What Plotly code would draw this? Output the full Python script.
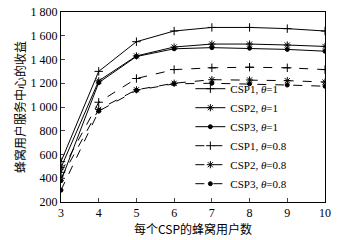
import plotly.graph_objects as go

x_users = [3, 4, 5, 6, 7, 8, 9, 10]
csp1_t1 = [540, 1300, 1550, 1640, 1670, 1670, 1660, 1640]
csp2_t1 = [490, 1220, 1430, 1505, 1530, 1530, 1522, 1510]
csp3_t1 = [380, 1205, 1425, 1490, 1500, 1495, 1485, 1470]
csp1_t08 = [450, 1040, 1240, 1315, 1330, 1335, 1330, 1315]
csp2_t08 = [400, 980, 1145, 1200, 1230, 1228, 1222, 1210]
csp3_t08 = [300, 965, 1140, 1195, 1200, 1195, 1185, 1175]

names = ["CSP1, <i>θ</i>=1", "CSP2, <i>θ</i>=1", "CSP3, <i>θ</i>=1",
         "CSP1, <i>θ</i>=0.8", "CSP2, <i>θ</i>=0.8", "CSP3, <i>θ</i>=0.8"]
series = [csp1_t1, csp2_t1, csp3_t1, csp1_t08, csp2_t08, csp3_t08]
y_ticks = [200, 400, 600, 800, 1000, 1200, 1400, 1600, 1800]
y_ticktext = ["200", "400", "600", "800", "1 000", "1 200", "1 400", "1 600", "1 800"]

symbols = ["cross-thin-open", "asterisk-open", "circle"] * 2
sizes = [6, 6, 4] * 2
dashes = ["solid"] * 3 + ["dash"] * 3

fig = go.Figure()
for name, ys, sym, sz, d in zip(names, series, symbols, sizes, dashes):
    fig.add_trace(go.Scatter(
        x=x_users, y=ys, name=name, mode="lines+markers",
        line=dict(color="black", width=1, dash=d),
        marker=dict(symbol=sym, size=sz, color="black",
                    line=dict(color="black", width=1)),
    ))

serif = "Liberation Serif, Times New Roman, serif"
cjk = "Noto Sans CJK SC, " + serif
fig.update_layout(
    width=338, height=240,
    margin=dict(l=61, r=13, t=12, b=38),
    paper_bgcolor="white", plot_bgcolor="white",
    font=dict(family=serif, size=12, color="black"),
    showlegend=True,
    legend=dict(x=0.49, y=0.02, xanchor="left", yanchor="bottom",
                bgcolor="rgba(0,0,0,0)", borderwidth=0,
                font=dict(size=11), tracegroupgap=0, itemwidth=30),
    xaxis=dict(range=[3, 10], tickvals=x_users, ticks="inside", ticklen=4,
               showgrid=False, zeroline=False, showline=True, linecolor="black",
               linewidth=1, mirror=True, automargin=False,
               title=dict(text="每个CSP的蜂窝用户数", standoff=2,
                          font=dict(family=cjk, size=12))),
    yaxis=dict(range=[200, 1800], tickvals=y_ticks, ticktext=y_ticktext,
               ticks="inside", ticklen=4,
               showgrid=False, zeroline=False, showline=True, linecolor="black",
               linewidth=1, mirror=True, automargin=False,
               title=dict(text="蜂窝用户服务中心的收益", standoff=2,
                          font=dict(family=cjk, size=12))),
)

# remove the browser's default 8px page margin so the figure sits at (0, 0)
fig.write_html("out.html", config={"displayModeBar": False},
               post_script="document.body.style.margin='0px';")
